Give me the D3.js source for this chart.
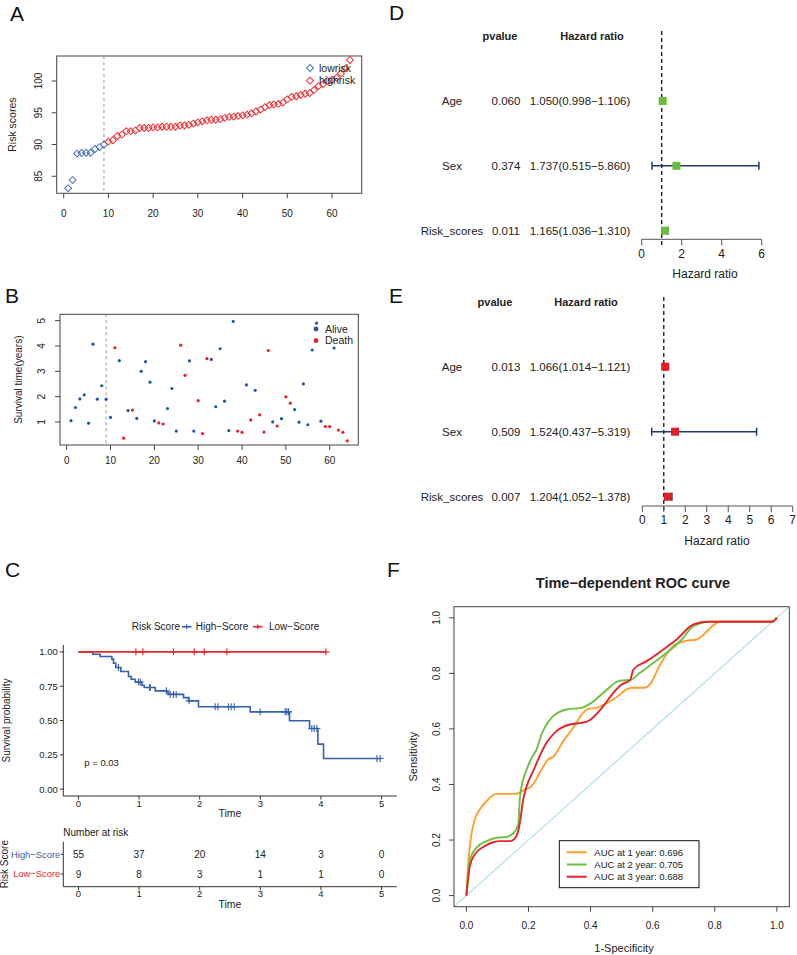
<!DOCTYPE html>
<html><head><meta charset="utf-8">
<script src="https://cdn.jsdelivr.net/npm/d3@7"></script>
<style>body{margin:0;background:#fff;} svg{display:block;font-family:"Liberation Sans",Arial,sans-serif;}</style>
</head><body>
<script>
// ================= DATA =================
// Panel A: sorted risk scores (first 9 = low risk)
const riskScores = [83.1,84.4,88.57,88.67,88.7,88.7,89.3,89.6,90.0,
  90.45,90.67,91.35,91.56,92.1,92.1,92.2,92.6,92.6,92.6,
  92.7,92.7,92.8,92.8,92.8,92.8,93.0,93.0,93.1,93.3,
  93.5,93.65,93.8,93.9,93.9,94.0,94.2,94.35,94.4,94.5,
  94.6,94.7,94.9,95.2,95.5,95.9,96.2,96.3,96.4,96.6,
  97.1,97.5,97.6,97.8,98.0,98.1,98.6,99.2,99.5,100.0,
  100.2,100.5,101.2,102.0,103.3];
const lowRiskCount = 9;
const riskGroups = ["lowrisk","highrisk"];
const xTicksAB = [0,10,20,30,40,50,60];
const yTicksA = [85,90,95,100];

// Panel B: survival time and status
const survivalTimes = [1.05,1.57,1.91,2.07,0.95,4.07,1.9,2.43,1.9,1.18,3.93,3.42,0.36,1.45,1.47,1.14,3.0,3.38,2.57,1.04,
  0.96,0.92,1.53,2.32,0.64,4.03,2.84,3.41,0.64,1.84,0.54,3.5,3.47,1.6,3.89,1.82,0.66,4.97,0.64,0.59,
  2.46,1.08,2.25,1.28,0.6,3.82,1.0,0.84,1.13,1.99,1.74,1.49,0.99,2.5,0.89,3.84,4.9,1.03,0.82,0.82,
  3.92,0.68,0.59,0.25];
const survivalStatus = ["Alive","Alive","Alive","Alive","Alive","Alive","Alive","Alive","Alive","Alive",
  "Death","Alive","Death","Alive","Death","Alive","Alive","Alive","Alive","Alive",
  "Death","Death","Alive","Alive","Alive","Death","Death","Alive","Alive","Death",
  "Death","Death","Alive","Alive","Alive","Alive","Alive","Alive","Death","Death",
  "Alive","Death","Alive","Death","Death","Death","Alive","Death","Alive","Death",
  "Death","Alive","Alive","Alive","Alive","Alive","Alive","Alive","Death","Death",
  "Alive","Death","Death","Death"];
const statusNames = ["Alive","Death"];
const yTicksB = [1,2,3,4,5];

// Panel C: Kaplan-Meier
const kmHighTimes = [0.237,0.358,0.551,0.578,0.616,0.699,0.825,0.87,0.935,1.045,1.084,1.266,1.458,1.486,1.733,1.816,1.98,2.833,3.482,3.812,3.95,4.043];
const kmHighSurv  = [0.983,0.966,0.947,0.917,0.886,0.857,0.82,0.80,0.78,0.757,0.74,0.716,0.704,0.69,0.667,0.643,0.60,0.563,0.498,0.442,0.328,0.223];
const kmHighEnd = 4.98;
const kmHighCensor = [0.66,0.99,1.018,1.172,1.183,1.45,1.513,1.568,1.612,1.826,2.255,2.3,2.475,2.52,2.57,2.998,3.41,3.438,3.465,3.85,3.89,3.933,4.924,4.978];
const kmLowEnd = 4.082;
const kmLowCensor = [0.947,1.063,1.568,1.909,2.074,2.449,4.082];
const kmTimeTicks = [0,1,2,3,4,5];
const kmSurvTicks = [0,0.25,0.5,0.75,1];
const kmGroups = ["High−Score","Low−Score"];
const pValueText = "p = 0.03";
const atRiskHigh = [55,37,20,14,3,0];
const atRiskLow  = [9,8,3,1,1,0];

// Panels D/E: forest plots
const forestVars = ["Age","Sex","Risk_scores"];
const uniP = ["0.060","0.374","0.011"];
const uniHR = [1.050,1.737,1.165];
const uniLow = [0.998,0.515,1.036];
const uniHigh = [1.106,5.860,1.310];
const uniTicks = [0,2,4,6];
const multiP = ["0.013","0.509","0.007"];
const multiHR = [1.066,1.524,1.204];
const multiLow = [1.014,0.437,1.052];
const multiHigh = [1.121,5.319,1.378];
const multiTicks = [0,1,2,3,4,5,6,7];

// Panel F: time-dependent ROC
const roc1Fpr = [0,0.005,0.011,0.027,0.043,0.07,0.097,0.161,0.185,0.21,0.242,0.263,0.28,0.312,0.344,0.376,0.392,0.419,0.473,0.532,0.575,0.591,0.624,0.666,0.704,0.742,0.817,0.984,1.0];
const roc1Tpr = [0,0.1,0.178,0.274,0.31,0.346,0.366,0.366,0.38,0.394,0.454,0.49,0.5,0.556,0.604,0.658,0.672,0.676,0.706,0.748,0.748,0.76,0.832,0.898,0.916,0.922,0.986,0.986,1.0];
const roc2Fpr = [0,0.011,0.032,0.065,0.097,0.129,0.15,0.167,0.172,0.183,0.194,0.21,0.226,0.242,0.274,0.323,0.371,0.403,0.441,0.495,0.527,0.559,0.602,0.645,0.694,0.731,0.785,0.984,1.0];
const roc2Tpr = [0,0.13,0.172,0.196,0.208,0.211,0.223,0.256,0.346,0.418,0.454,0.496,0.526,0.58,0.64,0.67,0.676,0.694,0.73,0.774,0.776,0.802,0.838,0.874,0.922,0.97,0.986,0.986,1.0];
const roc3Fpr = [0,0.011,0.027,0.054,0.086,0.108,0.14,0.161,0.174,0.181,0.194,0.215,0.236,0.258,0.29,0.333,0.371,0.392,0.441,0.473,0.5,0.527,0.538,0.581,0.634,0.677,0.731,0.774,0.984,1.0];
const roc3Tpr = [0,0.106,0.148,0.175,0.192,0.196,0.196,0.214,0.274,0.334,0.394,0.448,0.502,0.55,0.592,0.616,0.622,0.628,0.682,0.73,0.76,0.776,0.814,0.844,0.886,0.922,0.976,0.986,0.986,1.0];
const rocLabels = ["AUC at 1 year: 0.696","AUC at 2 year: 0.705","AUC at 3 year: 0.688"];
const rocTicks = [0,0.2,0.4,0.6,0.8,1.0];

// ================= STYLE =================
const C = {
  lowA:"#4a6fc0", highA:"#ee3035",
  alive:"#2356a8", death:"#e8202a",
  kmHigh:"#3560ae", kmLow:"#e8252b",
  green:"#69bd3a", navy:"#1f3a6e", redSq:"#e31f26",
  r1:"#ff9f2a", r2:"#6cc03e", r3:"#e5232a", diag:"#a8dbee",
  ink:"#222", frame:"#444"
};

const svg = d3.select("body").append("svg").attr("width",797).attr("height",955);
svg.append("rect").attr("width",797).attr("height",955).attr("fill","#fff");

function T(g,x,y,s,o={}){const t=g.append("text").attr("x",x).attr("y",y).text(s).attr("fill",C.ink);for(const k in o)t.attr(k,o[k]);return t;}
function L(g,x1,y1,x2,y2,stroke,w=1,o={}){const l=g.append("line").attr("x1",x1).attr("y1",y1).attr("x2",x2).attr("y2",y2).attr("stroke",stroke).attr("stroke-width",w);for(const k in o)l.attr(k,o[k]);return l;}
function frame(g,x,y){const [x0,x1]=x.range(),[y0,y1]=y.range();g.append("rect").attr("x",x0).attr("y",y1).attr("width",x1-x0).attr("height",y0-y1).attr("fill","none").attr("stroke",C.frame).attr("stroke-width",1);}

// Panel letters
[["A",10,21],["B",5,303],["C",5,577],["D",389,20],["E",389,303],["F",387,577]].forEach(d=>T(svg,d[1],d[2],d[0],{"font-size":21,fill:"#111"}));

// ================= PANEL A =================
{
  const g = svg.append("g");
  const x = d3.scaleLinear().domain([-1.565,66.64]).range([56.7,361.7]);
  const y = d3.scaleLinear().domain([82.32,103.94]).range([193.3,56]);
  frame(g,x,y);
  const yb = y.range()[0], xl = x.range()[0];
  xTicksAB.forEach(v=>{L(g,x(v),yb,x(v),yb+5,C.frame);T(g,x(v),yb+23.3,v,{"font-size":10,"text-anchor":"middle"});});
  yTicksA.forEach(v=>{L(g,xl-5,y(v),xl,y(v),C.frame);T(g,0,0,v,{"font-size":10,"text-anchor":"middle",transform:`translate(41.6,${y(v)}) rotate(-90)`});});
  T(g,0,0,"Risk scores",{"font-size":10.5,"text-anchor":"middle",transform:`translate(16,${(y.range()[0]+y.range()[1])/2}) rotate(-90)`});
  L(g,x(lowRiskCount),y.range()[1],x(lowRiskCount),yb,"#999",1,{"stroke-dasharray":"3,3"});
  const sym = d3.symbol().type(d3.symbolSquare).size(24);
  g.selectAll("path.pt").data(riskScores).join("path")
    .attr("d",sym).attr("transform",(d,i)=>`translate(${x(i+1)},${y(d)}) rotate(45)`)
    .attr("fill","none").attr("stroke",(d,i)=>i<lowRiskCount?C.lowA:C.highA).attr("stroke-width",1);
  riskGroups.forEach((n,i)=>{
    const yy = 68+i*12.7;
    g.append("path").attr("d",sym).attr("transform",`translate(310,${yy}) rotate(45)`).attr("fill","none").attr("stroke",i?C.highA:C.lowA);
    T(g,319,yy+3.7,n,{"font-size":10.5});
  });
}

// ================= PANEL B =================
{
  const g = svg.append("g");
  const x = d3.scaleLinear().domain([-1.52,66.52]).range([60,358.3]);
  const y = d3.scaleLinear().domain([0.09,5.25]).range([445,314.3]);
  frame(g,x,y);
  const yb = y.range()[0], xl = x.range()[0];
  xTicksAB.forEach(v=>{L(g,x(v),yb,x(v),yb+5,C.frame);T(g,x(v),yb+18.6,v,{"font-size":10,"text-anchor":"middle"});});
  yTicksB.forEach(v=>{L(g,xl-5,y(v),xl,y(v),C.frame);T(g,0,0,v,{"font-size":10,"text-anchor":"middle",transform:`translate(45.3,${y(v)}) rotate(-90)`});});
  T(g,0,0,"Survival time(years)",{"font-size":10,"text-anchor":"middle",transform:`translate(21.8,${(y.range()[0]+y.range()[1])/2}) rotate(-90)`});
  L(g,x(lowRiskCount),y.range()[1],x(lowRiskCount),yb,"#999",1,{"stroke-dasharray":"3,3"});
  g.selectAll("circle.pt").data(survivalTimes).join("circle")
    .attr("cx",(d,i)=>x(i+1)).attr("cy",d=>y(d)).attr("r",1.6)
    .attr("fill",(d,i)=>survivalStatus[i]==="Death"?C.death:C.alive);
  statusNames.forEach((n,i)=>{
    const yy = 329+i*11.7;
    g.append("circle").attr("cx",316).attr("cy",yy).attr("r",2.4).attr("fill",i?C.death:C.alive);
    T(g,325,yy+3.7,n,{"font-size":10.5});
  });
}

// ================= PANEL C =================
{
  const g = svg.append("g");
  const x = d3.scaleLinear().domain([-0.25,5.25]).range([63.3,396.7]);
  const y = d3.scaleLinear().domain([-0.05,1.05]).range([796,645]);
  const xl = x.range()[0], yb = y.range()[0];
  L(g,xl,y.range()[1],xl,yb,"#333",1);
  L(g,xl,yb,x.range()[1],yb,"#333",1);
  kmSurvTicks.forEach(v=>{L(g,xl-3.5,y(v),xl,y(v),"#333");T(g,xl-5.5,y(v)+3.4,v.toFixed(2),{"font-size":9.5,"text-anchor":"end"});});
  kmTimeTicks.forEach(v=>{L(g,x(v),yb,x(v),yb+3.5,"#333");T(g,x(v),yb+11,v,{"font-size":9.5,"text-anchor":"middle"});});
  T(g,(x(0)+x(5))/2+0,817,"Time",{"font-size":10.5,"text-anchor":"middle"});
  T(g,0,0,"Survival probability",{"font-size":10,"text-anchor":"middle",transform:`translate(10,${(y(0)+y(1))/2}) rotate(-90)`});
  // curves
  const line = d3.line().x(d=>x(d[0])).y(d=>y(d[1])).curve(d3.curveStepAfter);
  const highPts = [[0,1]].concat(kmHighTimes.map((t,i)=>[t,kmHighSurv[i]])).concat([[kmHighEnd,kmHighSurv[kmHighSurv.length-1]]]);
  const lowPts = [[0,1],[kmLowEnd,1]];
  const survAt = t=>{let s=1;kmHighTimes.forEach((tt,i)=>{if(tt<=t)s=kmHighSurv[i];});return s;};
  const plus = "M-3.5,0H3.5M0,-3.5V3.5";
  g.append("path").attr("d",line(highPts)).attr("fill","none").attr("stroke",C.kmHigh).attr("stroke-width",1.6);
  kmHighCensor.forEach(t=>g.append("path").attr("d",plus).attr("transform",`translate(${x(t)},${y(survAt(t))})`).attr("stroke",C.kmHigh).attr("stroke-width",1.1));
  g.append("path").attr("d",line(lowPts)).attr("fill","none").attr("stroke",C.kmLow).attr("stroke-width",1.6);
  kmLowCensor.forEach(t=>g.append("path").attr("d",plus).attr("transform",`translate(${x(t)},${y(1)})`).attr("stroke",C.kmLow).attr("stroke-width",1.1));
  T(g,84.3,766.2,pValueText,{"font-size":9.5});
  // legend
  T(g,131.7,630.2,"Risk Score",{"font-size":10});
  [[182,195.7],[253,269]].forEach((p,i)=>{
    const col = i?C.kmLow:C.kmHigh;
    L(g,p[0],626.7,p[0]+9.5,626.7,col,1.6);
    g.append("path").attr("d","M-2.5,0H2.5M0,-2.5V2.5").attr("transform",`translate(${p[0]+4.75},626.7)`).attr("stroke",col).attr("stroke-width",1.1);
    T(g,p[1],630.2,kmGroups[i],{"font-size":10});
  });
  // risk table
  const ry = d3.scalePoint().domain(kmGroups).range([854.3,874]);
  const tb = 886.7, tt = 841.7;
  T(g,63.3,836,"Number at risk",{"font-size":10});
  L(g,xl,tt,xl,tb,"#333",1);
  L(g,xl,tb,x.range()[1],tb,"#333",1);
  kmGroups.forEach((n,i)=>{
    const col = i?C.kmLow:C.kmHigh;
    L(g,xl-2.5,ry(n),xl,ry(n),"#333");
    T(g,xl-3,ry(n)+3.4,n,{"font-size":9.4,"text-anchor":"end",fill:col});
    const arr = i?atRiskLow:atRiskHigh;
    kmTimeTicks.forEach((t,j)=>T(g,x(t),ry(n)+3.6,arr[j],{"font-size":10,"text-anchor":"middle"}));
  });
  kmTimeTicks.forEach(v=>{L(g,x(v),tb,x(v),tb+3.5,"#333");T(g,x(v),tb+10.5,v,{"font-size":9.5,"text-anchor":"middle"});});
  T(g,(x(0)+x(5))/2,908,"Time",{"font-size":10.5,"text-anchor":"middle"});
  T(g,0,0,"Risk Score",{"font-size":10,"text-anchor":"middle",transform:`translate(8,${(tt+tb)/2}) rotate(-90)`});
}

// ================= PANELS D & E =================
function forest(cfg){
  const g = svg.append("g");
  const x = d3.scaleLinear().domain([0,cfg.ticks[cfg.ticks.length-1]]).range(cfg.xr);
  const y = d3.scalePoint().domain(forestVars).range(cfg.yr);
  T(g,cfg.pHead,cfg.headY,"pvalue",{"font-size":11,"font-weight":"bold","text-anchor":"middle"});
  T(g,cfg.hrHead,cfg.headY,"Hazard ratio",{"font-size":11,"font-weight":"bold","text-anchor":"middle"});
  forestVars.forEach((v,i)=>{
    const yy = y(v)+4;
    T(g,452,yy,v,{"font-size":11.5,"text-anchor":"middle"});
    T(g,506,yy,cfg.p[i],{"font-size":11.5,"text-anchor":"middle"});
    T(g,580,yy,`${cfg.hr[i].toFixed(3)}(${cfg.lo[i].toFixed(3)}−${cfg.hi[i].toFixed(3)})`,{"font-size":11.5,"text-anchor":"middle"});
  });
  L(g,x(1),cfg.dash[0],x(1),cfg.dash[1],"#111",1.3,{"stroke-dasharray":"4,3"});
  forestVars.forEach((v,i)=>{
    const yy = y(v);
    L(g,x(cfg.lo[i]),yy,x(cfg.hi[i]),yy,C.navy,1.5);
    L(g,x(cfg.lo[i]),yy-4,x(cfg.lo[i]),yy+4,C.navy,1.5);
    L(g,x(cfg.hi[i]),yy-4,x(cfg.hi[i]),yy+4,C.navy,1.5);
    g.append("rect").attr("x",x(cfg.hr[i])-4).attr("y",yy-4).attr("width",8).attr("height",8).attr("fill",cfg.col);
  });
  const ay = cfg.axisY;
  L(g,x.range()[0],ay,x.range()[1],ay,"#555",1);
  cfg.ticks.forEach(t=>{L(g,x(t),ay,x(t),ay+6,"#555");T(g,x(t),ay+18.3,t,{"font-size":12,"text-anchor":"middle"});});
  T(g,cfg.xlabX,ay+39,"Hazard ratio",{"font-size":12,"text-anchor":"middle"});
}
forest({p:uniP,hr:uniHR,lo:uniLow,hi:uniHigh,ticks:uniTicks,xr:[641.7,761.7],yr:[101,230.7],col:C.green,
  pHead:500,hrHead:592,headY:40,dash:[31,246],axisY:239.3,xlabX:705});
forest({p:multiP,hr:multiHR,lo:multiLow,hi:multiHigh,ticks:multiTicks,xr:[642.3,792.7],yr:[366.7,496.7],col:C.redSq,
  pHead:495,hrHead:586,headY:305.5,dash:[297,510],axisY:506,xlabX:717});

// ================= PANEL F =================
{
  const g = svg.append("g");
  const x = d3.scaleLinear().domain([-0.04,1.04]).range([454,789.3]);
  const y = d3.scaleLinear().domain([-0.04,1.04]).range([906.7,606.7]);
  T(g,633,587.5,"Time−dependent ROC curve",{"font-size":14.5,"font-weight":"bold","text-anchor":"middle"});
  const defs = svg.append("defs");
  defs.append("clipPath").attr("id","clipF").append("rect").attr("x",x.range()[0]).attr("y",y.range()[1]).attr("width",x.range()[1]-x.range()[0]).attr("height",y.range()[0]-y.range()[1]);
  const pg = g.append("g").attr("clip-path","url(#clipF)");
  L(pg,x(-0.04),y(-0.04),x(1.04),y(1.04),C.diag,1.1);
  const line = d3.line().x(d=>x(d[0])).y(d=>y(d[1])).curve(d3.curveMonotoneX);
  const series = [[roc1Fpr,roc1Tpr,C.r1],[roc2Fpr,roc2Tpr,C.r2],[roc3Fpr,roc3Tpr,C.r3]];
  series.forEach(s=>pg.append("path").attr("d",line(s[0].map((f,i)=>[f,s[1][i]]))).attr("fill","none").attr("stroke",s[2]).attr("stroke-width",1.9));
  frame(g,x,y);
  const yb = y.range()[0], xl = x.range()[0];
  rocTicks.forEach(v=>{
    L(g,x(v),yb,x(v),yb+5,C.frame);
    T(g,x(v),yb+21.8,v.toFixed(1),{"font-size":10,"text-anchor":"middle"});
    L(g,xl-5,y(v),xl,y(v),C.frame);
    T(g,0,0,v.toFixed(1),{"font-size":10,"text-anchor":"middle",transform:`translate(440.3,${y(v)}) rotate(-90)`});
  });
  T(g,624,952,"1-Specificity",{"font-size":11,"text-anchor":"middle"});
  T(g,0,0,"Sensitivity",{"font-size":11,"text-anchor":"middle",transform:`translate(417,${(y(0)+y(1))/2}) rotate(-90)`});
  // legend
  g.append("rect").attr("x",559.3).attr("y",840.7).attr("width",139.7).attr("height",47).attr("fill","#fff").attr("stroke","#111").attr("stroke-width",1);
  rocLabels.forEach((lab,i)=>{
    const yy = 852.3 + i*12.2;
    L(g,566.7,yy,586.7,yy,series[i][2],2);
    T(g,594.3,yy+3.4,lab,{"font-size":9.5});
  });
}
</script>
</body></html>
